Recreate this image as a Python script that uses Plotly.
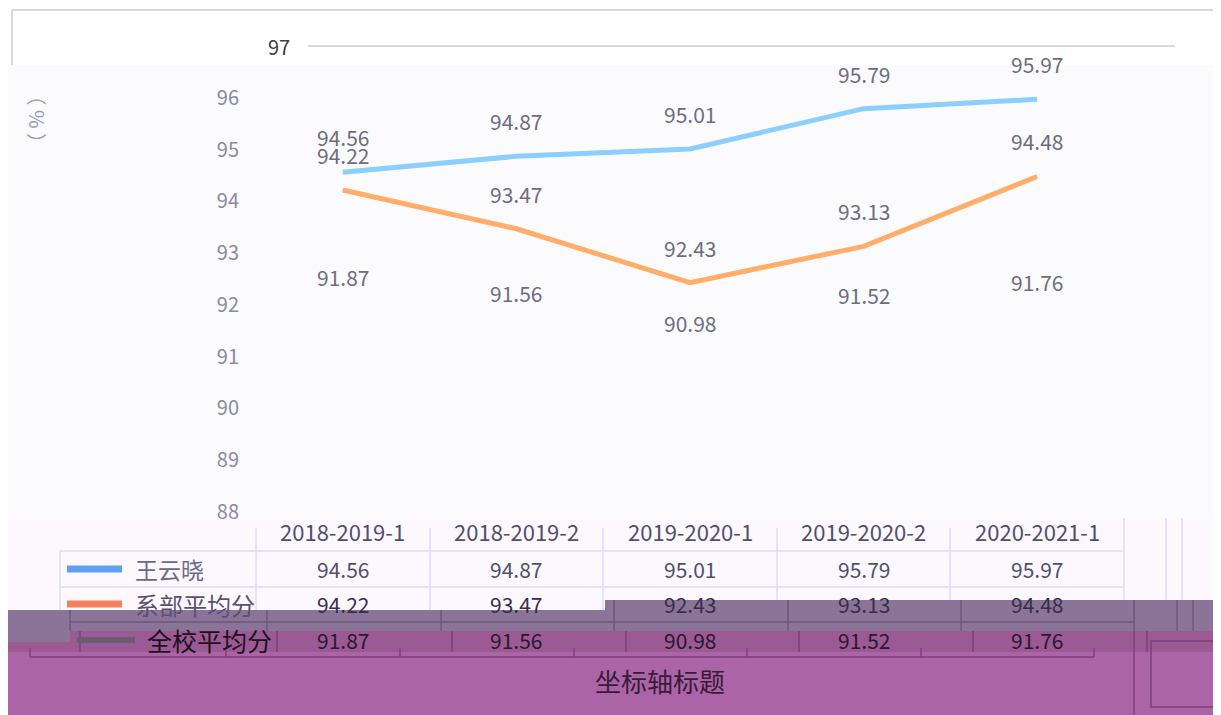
import plotly.graph_objects as go

# ---------------- data ----------------
categories = ["2018-2019-1", "2018-2019-2", "2019-2020-1", "2019-2020-2", "2020-2021-1"]
series_names = ["王云晓", "系部平均分", "全校平均分"]
wang = [94.56, 94.87, 95.01, 95.79, 95.97]
dept_avg = [94.22, 93.47, 92.43, 93.13, 94.48]
school_avg = [91.87, 91.56, 90.98, 91.52, 91.76]
y_ticks = [88, 89, 90, 91, 92, 93, 94, 95, 96]
y_top = 97

W, H = 1221, 715
OFF = 8  # page body margin
L, R, T, B = 256, 1124, 46, 512   # plot area in page pixels
FONT = "Noto Sans CJK SC, Noto Sans, sans-serif"

def X(px):
    return (px - L) / (R - L)

def Y(py):
    return (B - py) / (B - T)

fig = go.Figure()
fig.add_trace(go.Scatter(x=categories, y=wang, mode="lines", name=series_names[0],
                         line=dict(color="#8dcffc", width=5), hoverinfo="skip"))
fig.add_trace(go.Scatter(x=categories, y=dept_avg, mode="lines", name=series_names[1],
                         line=dict(color="#ffae6a", width=5), hoverinfo="skip"))
fig.add_trace(go.Scatter(x=categories, y=school_avg, mode="lines", name=series_names[2],
                         line=dict(color="rgba(0,0,0,0)", width=5), hoverinfo="skip"))

shapes = []
def rect(x0, y0, x1, y1, fill, line=None, layer="below"):
    shapes.append(dict(type="rect", xref="paper", yref="paper", x0=X(x0), x1=X(x1),
                       y0=Y(y1), y1=Y(y0), fillcolor=fill,
                       line=dict(width=0) if line is None else line, layer=layer))

def seg(x0, y0, x1, y1, color, width=1.5, layer="below"):
    shapes.append(dict(type="line", xref="paper", yref="paper", x0=X(x0), x1=X(x1),
                       y0=Y(y0), y1=Y(y1), line=dict(color=color, width=width), layer=layer))

# backgrounds
rect(0, 65, 1221, 518, "#fbfbfe")
rect(0, 518, 1221, 610, "#fcf8fd")
# outer border (top part)
seg(12, 10, 1215, 10, "#d9d9d9", 2)
seg(12, 10, 12, 65, "#d9d9d9", 2)
seg(1215, 10, 1215, 75, "#d9d9d9", 2)
# gridline at 97
seg(308, 46, 1175, 46, "#d9d9d9", 2)

# table lines
tl = "#dcdcf8"
seg(60, 551, 1124, 551, tl)
seg(60, 587, 1124, 587, tl)
seg(60, 551, 60, 610, tl)
for xv in [256, 430, 603, 777, 950]:
    seg(xv, 528, xv, 610, tl)
for xv in [1124, 1166, 1182]:
    seg(xv, 518, xv, 610, tl)

# glitch bands
rect(0, 610, 1221, 631, "#8a7498", layer="above")
rect(605, 600, 1221, 610, "#8a7498", layer="above")
rect(0, 631, 70, 642, "#8a7498", layer="above")
rect(70, 631, 1221, 642, "#9b5a93", layer="above")
rect(0, 642, 1221, 652, "#9b5a93", layer="above")
rect(0, 652, 1221, 720, "#ab64a5", layer="above")

gl = "#6e587a"
seg(70, 622, 1134, 622, gl, 1.5, "above")
for xv in [70, 267, 441, 614, 788, 961, 1134, 1177, 1193]:
    seg(xv, 600 if xv > 605 else 610, xv, 631, gl, 1.5, "above")
ml = "#7e3f78"
for xv in [80, 277, 452, 626, 799, 973, 1147]:
    seg(xv, 631, xv, 652, ml, 1.5, "above")
seg(30, 657, 1094, 657, ml, 1.5, "above")
for xv in [30, 226, 400, 574, 747, 921, 1094]:
    seg(xv, 648, xv, 657, ml, 1.5, "above")
seg(1134, 631, 1134, 720, ml, 1.5, "above")
rect(1151, 641, 1240, 707, "rgba(0,0,0,0)", line=dict(color=ml, width=1.5), layer="above")

# legend keys in table
seg(67, 569, 122, 569, "#5ea0f2", 7, "above")
seg(67, 604, 122, 604, "#f5825c", 7, "above")
seg(77, 640, 135, 640, "#6a5a72", 6, "above")

annotations = []
def txt(xv, yv, text, color, size=20, xref="x", xanchor="center", yref="paper", yshift=0, **kw):
    annotations.append(dict(x=xv, y=yv, xref=xref, yref=yref, text=text, showarrow=False,
                            xanchor=xanchor, yanchor="middle", yshift=yshift,
                            font=dict(family=FONT, size=size, color=color), **kw))

# data labels (35px above each point)
for series in [wang, dept_avg, school_avg]:
    for c, v in zip(categories, series):
        txt(c, v, f"{v:.2f}", "#6d6d7e", 21, yref="y", yshift=35)

# table header & rows
for c in categories:
    txt(c, Y(531), c, "#4f4f6e", 22)
row_colors = ["#50506e", "#3a2d4a", "#2b1730"]
row_y = [569, 604, 640]
for series, col, ry in zip([wang, dept_avg, school_avg], row_colors, row_y):
    for c, v in zip(categories, series):
        txt(c, Y(ry), f"{v:.2f}", col, 21)

# legend labels
txt(X(133), Y(569), series_names[0], "#6a6a85", 23, xref="paper", xanchor="left")
txt(X(133), Y(604), series_names[1], "#5a5070", 24, xref="paper", xanchor="left")
txt(X(145), Y(640), series_names[2], "#1e1020", 25, xref="paper", xanchor="left")

# axis extras
txt(X(279), y_top, str(y_top), "#404040", 20, xref="paper", yref="y")
txt(X(35), Y(120), "（ % ）", "#9a9aae", 20, xref="paper", textangle=-90)
txt(X(660), Y(680), "坐标轴标题", "#3a1a3a", 26, xref="paper")

fig.update_layout(
    width=W - OFF, height=H - OFF,
    margin=dict(l=L - OFF, r=W - R, t=T - OFF, b=H - B),
    paper_bgcolor="white", plot_bgcolor="rgba(0,0,0,0)",
    showlegend=False,
    shapes=shapes, annotations=annotations,
    font=dict(family=FONT),
    xaxis=dict(type="category", categoryarray=categories, range=[-0.5, 4.5],
               showticklabels=False, showgrid=False, zeroline=False, showline=False, ticks=""),
    yaxis=dict(range=[88, 97], tickvals=y_ticks, showgrid=False, zeroline=False, showline=False,
               tickfont=dict(family=FONT, size=20, color="#8a8aa0"), ticklabelstandoff=16, ticks=""),
)

fig.write_html("out.html")
